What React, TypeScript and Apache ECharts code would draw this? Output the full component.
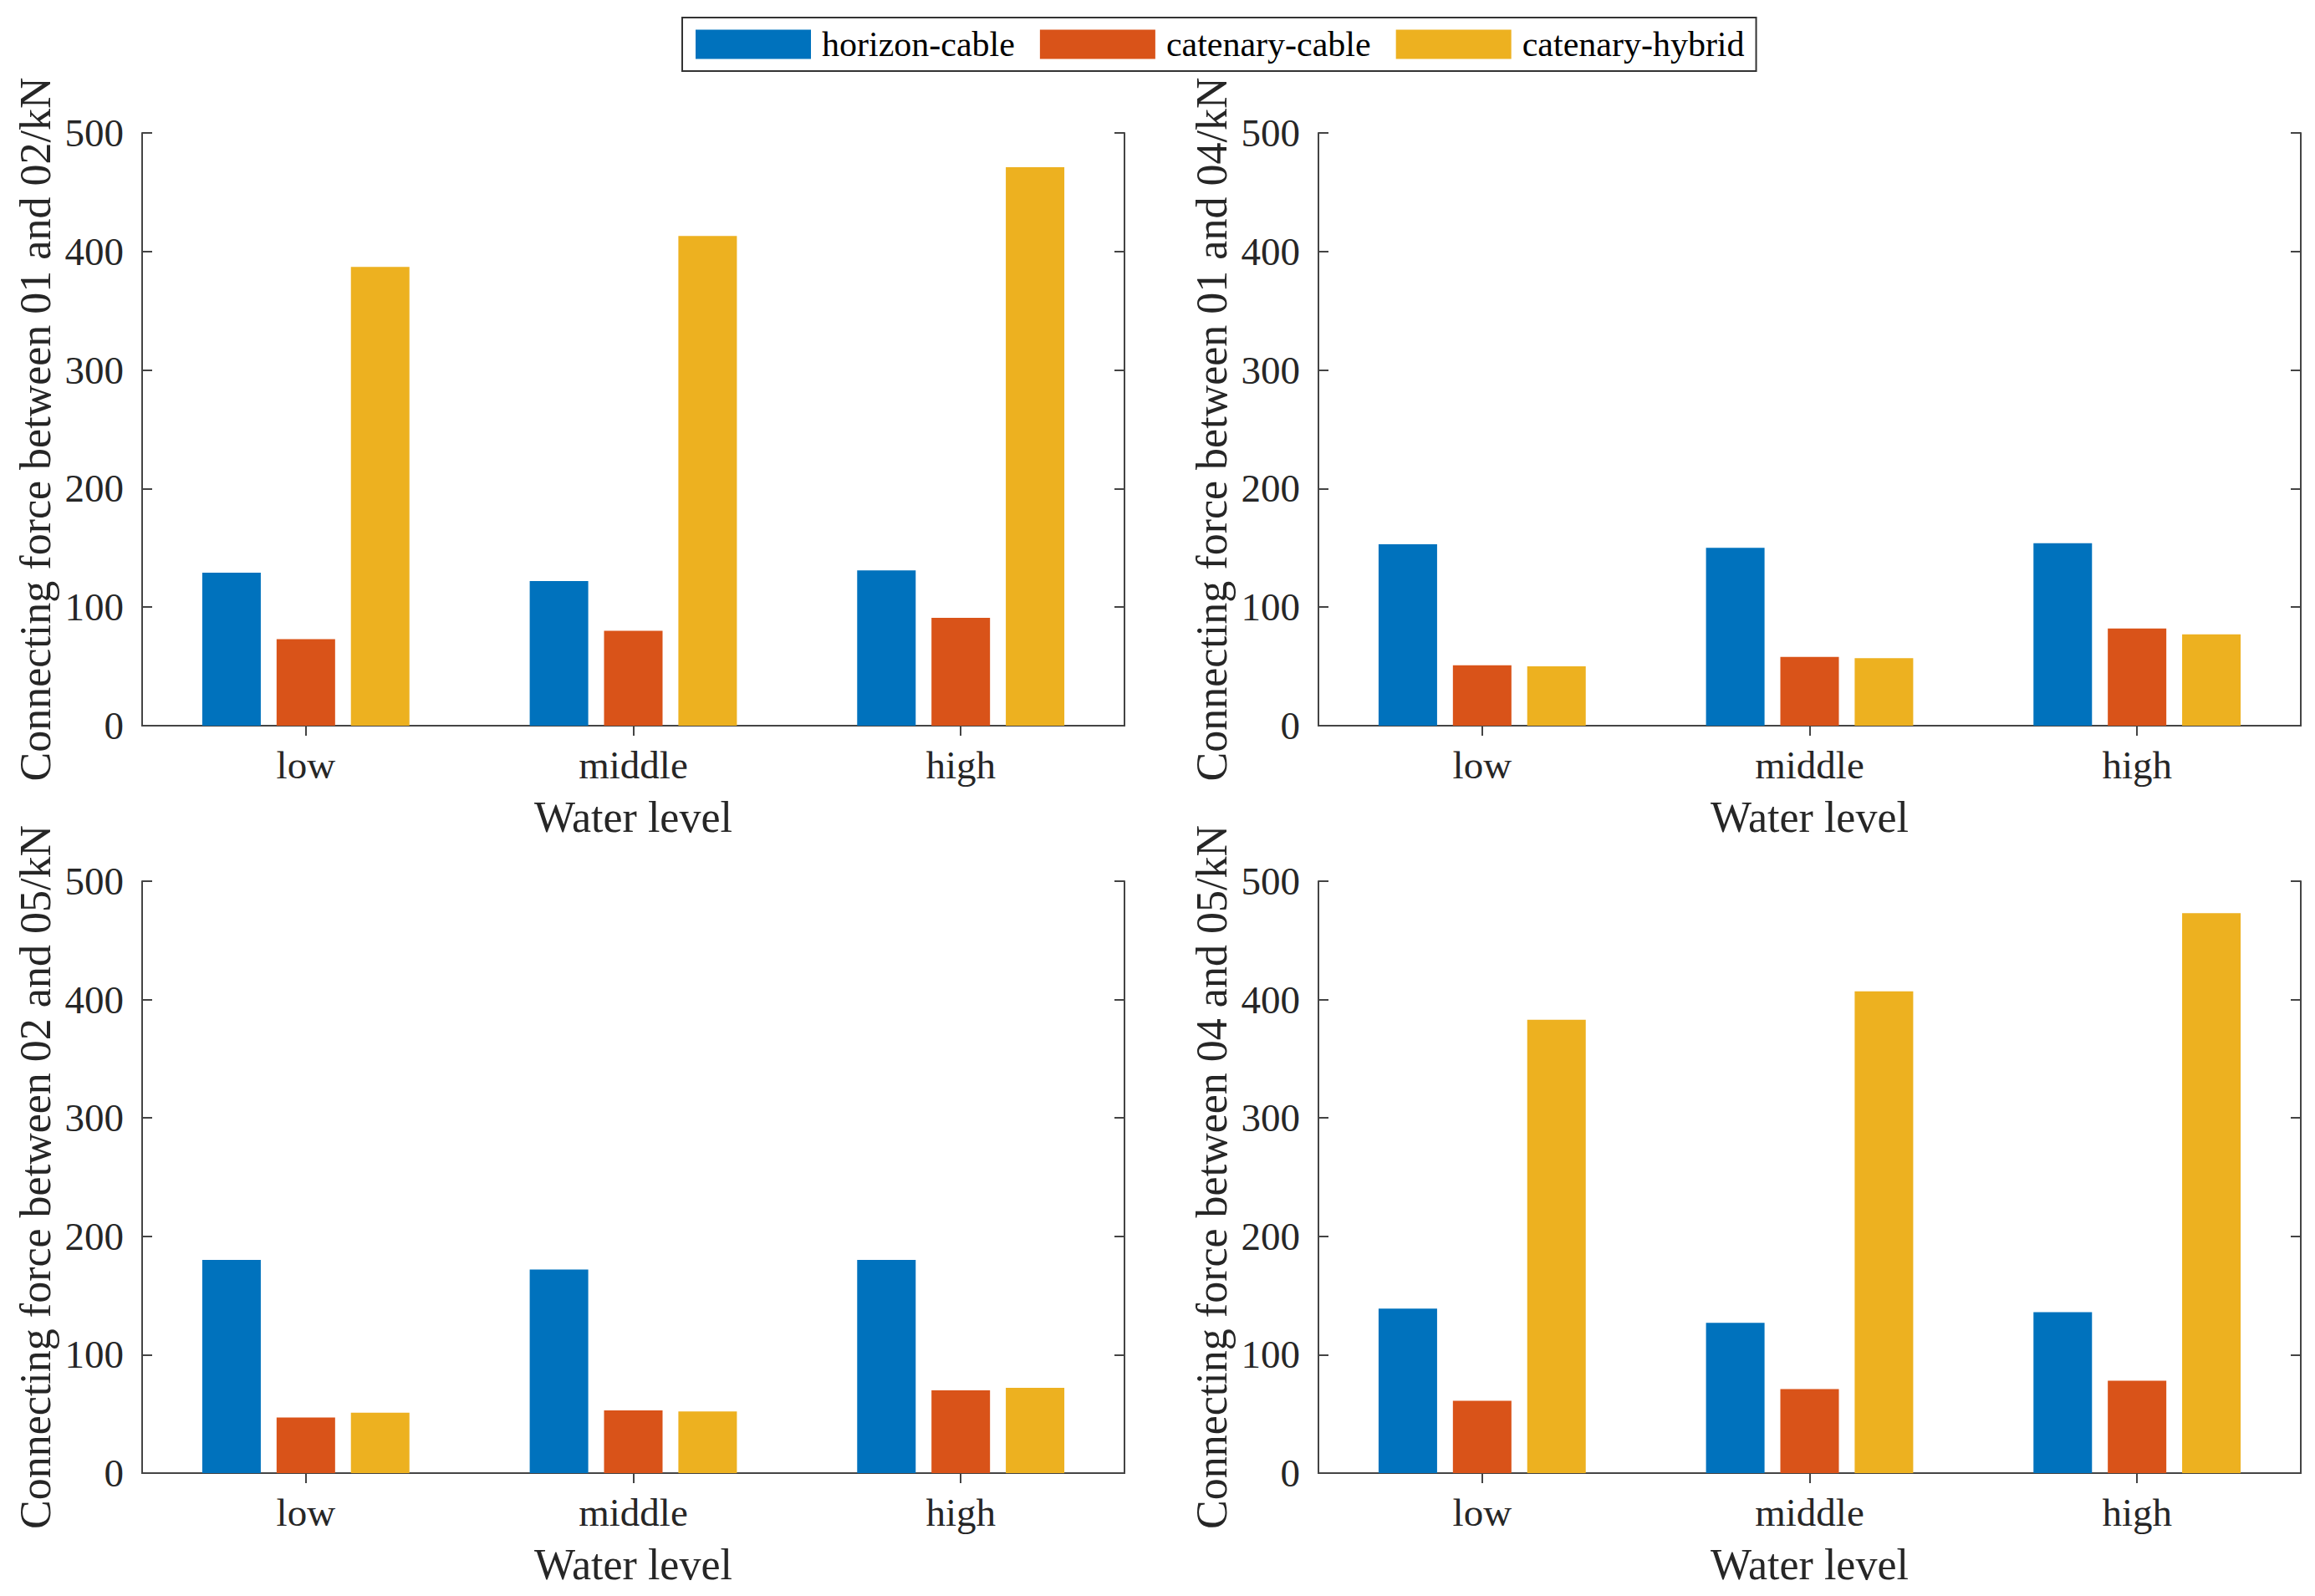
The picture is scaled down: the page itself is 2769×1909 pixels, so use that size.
import React, { useEffect, useRef } from 'react';
import * as echarts from 'echarts';

const categories = ['low', 'middle', 'high'];
const seriesNames = ['horizon-cable', 'catenary-cable', 'catenary-hybrid'];
const colors = ['#0072BD', '#D95319', '#EDB120'];
const yTicks = [0, 100, 200, 300, 400, 500];

const horizon0102 = [129, 122, 131];
const catCable0102 = [73, 80, 91];
const catHybrid0102 = [387, 413, 471];

const horizon0104 = [153, 150, 154];
const catCable0104 = [51, 58, 82];
const catHybrid0104 = [50, 57, 77];

const horizon0205 = [180, 172, 180];
const catCable0205 = [47, 53, 70];
const catHybrid0205 = [51, 52, 72];

const horizon0405 = [139, 127, 136];
const catCable0405 = [61, 71, 78];
const catHybrid0405 = [383, 407, 473];

const yAxisNames = [
  'Connecting force between 01 and 02/kN',
  'Connecting force between 01 and 04/kN',
  'Connecting force between 02 and 05/kN',
  'Connecting force between 04 and 05/kN',
];
const xAxisName = 'Water level';

const panels = [
  [horizon0102, catCable0102, catHybrid0102],
  [horizon0104, catCable0104, catHybrid0104],
  [horizon0205, catCable0205, catHybrid0205],
  [horizon0405, catCable0405, catHybrid0405],
];

const FONT = 'Liberation Serif';
const AXIS_COLOR = '#444444';
const TEXT_COLOR = '#262626';

export default function App() {
  const ref = useRef<HTMLDivElement>(null);
  useEffect(() => {
    document.body.style.margin = '0';
    const chart = echarts.init(ref.current!, null, { renderer: 'svg' });
    const grids = [
      { left: 170, top: 159, width: 1175, height: 709 },
      { left: 1577, top: 159, width: 1175, height: 709 },
      { left: 170, top: 1054, width: 1175, height: 708 },
      { left: 1577, top: 1054, width: 1175, height: 708 },
    ];
    const lineStyle = { color: AXIS_COLOR, width: 2 };
    const xAxes: any[] = [];
    const yAxes: any[] = [];
    const series: any[] = [];
    grids.forEach((g, i) => {
      xAxes.push({
        type: 'category',
        gridIndex: i,
        data: categories,
        position: 'bottom',
        boundaryGap: true,
        axisLine: { show: true, lineStyle },
        axisTick: { show: true, inside: true, alignWithLabel: true, length: 12, lineStyle },
        axisLabel: { fontSize: 47, fontFamily: FONT, color: TEXT_COLOR, margin: 23 },
        name: xAxisName,
        nameLocation: 'middle',
        nameGap: 83,
        nameTextStyle: { fontSize: 52, fontFamily: FONT, color: TEXT_COLOR },
      });
      xAxes.push({
        type: 'category',
        gridIndex: i,
        data: categories,
        position: 'top',
        boundaryGap: true,
        axisLine: { show: true, lineStyle },
        axisTick: { show: true, inside: true, alignWithLabel: true, length: 12, lineStyle },
        axisLabel: { show: false },
      });
      yAxes.push({
        type: 'value',
        gridIndex: i,
        min: yTicks[0],
        max: yTicks[yTicks.length - 1],
        interval: 100,
        position: 'left',
        axisLine: { show: true, lineStyle },
        axisTick: { show: true, inside: true, length: 12, lineStyle },
        splitLine: { show: false },
        axisLabel: { fontSize: 47, fontFamily: FONT, color: TEXT_COLOR, margin: 22 },
        name: yAxisNames[i],
        nameLocation: 'middle',
        nameRotate: 90,
        nameGap: 102,
        nameTextStyle: { fontSize: 52, fontFamily: FONT, color: TEXT_COLOR },
      });
      yAxes.push({
        type: 'value',
        gridIndex: i,
        min: yTicks[0],
        max: yTicks[yTicks.length - 1],
        interval: 100,
        position: 'right',
        axisLine: { show: true, lineStyle },
        axisTick: { show: true, inside: true, length: 12, lineStyle },
        splitLine: { show: false },
        axisLabel: { show: false },
      });
      panels[i].forEach((vals, j) => {
        series.push({
          type: 'bar',
          name: seriesNames[j],
          xAxisIndex: i * 2,
          yAxisIndex: i * 2,
          data: vals,
          barWidth: 70,
          barGap: '27%',
          itemStyle: { color: colors[j] },
        });
      });
    });
    chart.setOption({
      animation: false,
      backgroundColor: '#ffffff',
      color: colors,
      legend: {
        data: seriesNames,
        left: 816,
        top: 21,
        orient: 'horizontal',
        icon: 'rect',
        itemWidth: 138,
        itemHeight: 35,
        itemGap: 30,
        padding: [11, 14, 11, 16],
        borderColor: '#333',
        borderWidth: 2,
        textStyle: { fontSize: 42, fontFamily: FONT, color: '#000', padding: [0, 0, 0, 8] },
      },
      grid: grids,
      xAxis: xAxes,
      yAxis: yAxes,
      series,
    });
    return () => chart.dispose();
  }, []);
  return <div ref={ref} style={{ width: 2769, height: 1909, background: '#fff' }} />;
}
